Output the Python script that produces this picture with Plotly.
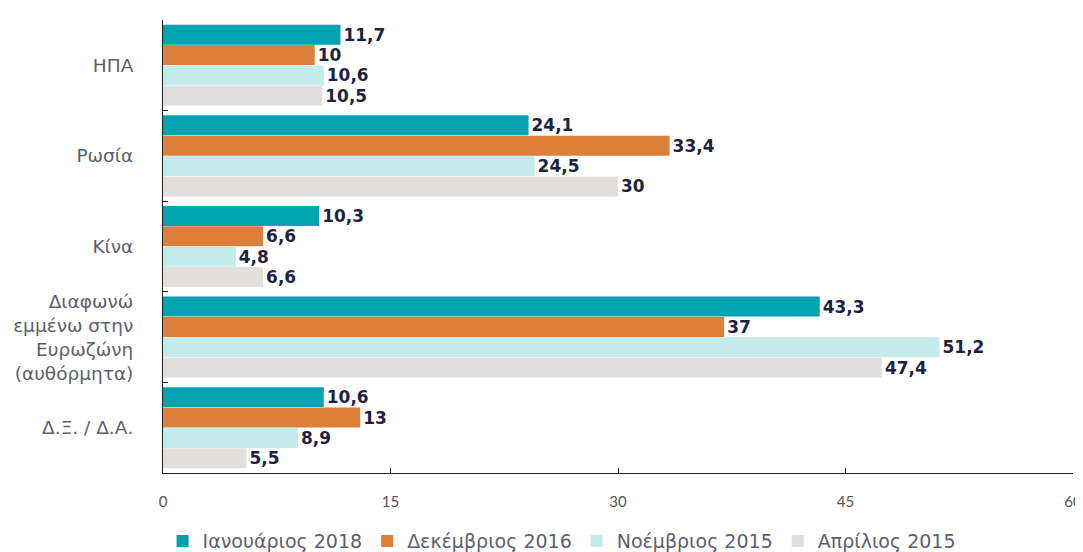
import plotly.graph_objects as go

categories = ["ΗΠΑ", "Ρωσία", "Κίνα",
              "Διαφωνώ<br>εμμένω στην<br>Ευρωζώνη<br>(αυθόρμητα)", "Δ.Ξ. / Δ.Α."]
series_names = ["Ιανουάριος 2018", "Δεκέμβριος 2016", "Νοέμβριος 2015", "Απρίλιος 2015"]
jan_2018 = [11.7, 24.1, 10.3, 43.3, 10.6]
dec_2016 = [10, 33.4, 6.6, 37, 13]
nov_2015 = [10.6, 24.5, 4.8, 51.2, 8.9]
apr_2015 = [10.5, 30, 6.6, 47.4, 5.5]
x_ticks = [0, 15, 30, 45, 60]

colors = ["#00A3AE", "#DB7F3B", "#C4ECEC", "#E3DFDC"]
label_font = "DejaVu Sans"


def fmt(v):
    # greek style decimal comma
    return f"{v:g}".replace(".", ",")


fig = go.Figure()
for name, vals, col in zip(series_names, [jan_2018, dec_2016, nov_2015, apr_2015], colors):
    fig.add_trace(go.Bar(
        y=categories, x=vals, name=name, orientation="h",
        marker=dict(color=col, line_width=0),
        text=[fmt(v) for v in vals], textposition="outside",
        textfont=dict(family=label_font, size=17, color="#1E2240", weight="bold"),
        cliponaxis=False,
    ))

# page body has an 8px margin, so the figure sits 8px in from the window edge
fig.update_layout(
    width=1075, height=544,
    barmode="group", bargap=0.1, bargroupgap=0.02,
    plot_bgcolor="white", paper_bgcolor="white",
    margin=dict(l=155, r=10, t=12, b=79, autoexpand=False),
    font=dict(family=label_font, size=15, color="#5c5f6e"),
    legend=dict(orientation="h", x=0.438, xanchor="center",
                yref="container", y=0.02, yanchor="middle",
                font=dict(family=label_font, size=19, color="#5c5f6e"), itemwidth=30),
    xaxis=dict(range=[0, 60], tickvals=x_ticks, showgrid=False, zeroline=False,
               showline=True, linecolor="#222222", linewidth=1, automargin=False,
               ticks="inside", ticklen=5, tickcolor="#222222", ticklabeloverflow="allow",
               ticklabelstandoff=15, tickfont=dict(family="Lato", size=15, color="#555555")),
    yaxis=dict(autorange="reversed", showgrid=False, zeroline=False, automargin=False,
               showline=True, linecolor="#222222", linewidth=1, layer="below traces",
               ticks="inside", tickson="boundaries", ticklen=5, tickcolor="#222222",
               ticklabelstandoff=25, tickfont=dict(family=label_font, size=18.5, color="#5c5f6e")),
)

fig.write_html("out.html")
